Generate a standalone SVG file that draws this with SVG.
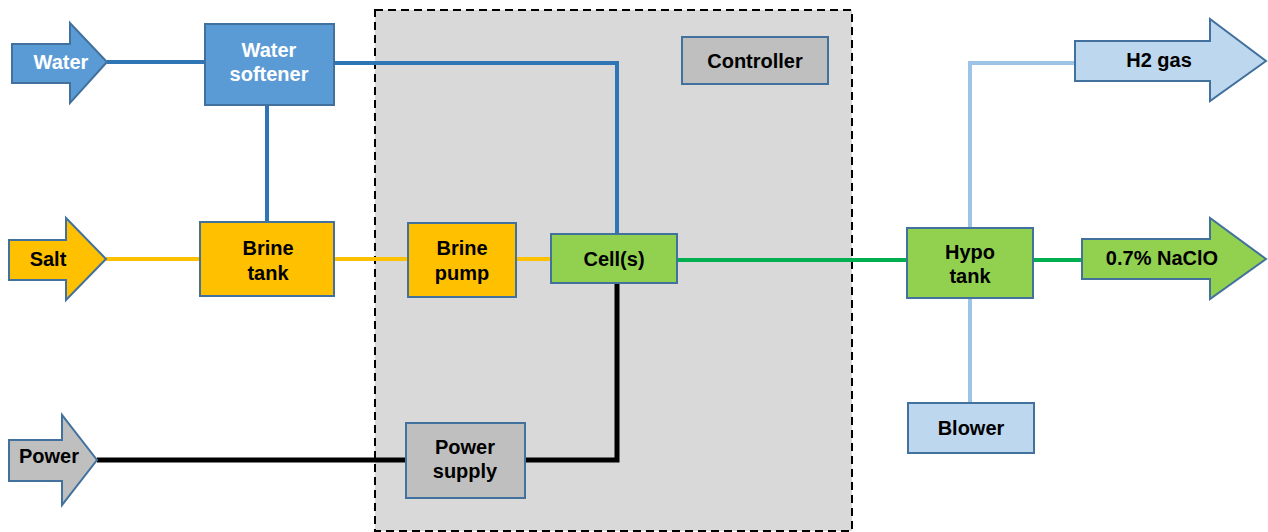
<svg xmlns="http://www.w3.org/2000/svg" width="1268" height="532" viewBox="0 0 1268 532">
<style>
text{font-family:"Liberation Sans",Arial,sans-serif;font-weight:bold;font-size:20px;text-anchor:middle;fill:#000}
.w{fill:#fff}
.box{stroke:#41719c;stroke-width:2}
.blue{fill:#5b9bd5}.yel{fill:#ffc000}.grn{fill:#92d050}.lb{fill:#bdd7ee}.gry{fill:#bfbfbf}
.ln{fill:none;stroke-width:4}
</style>
<rect x="0" y="0" width="1268" height="532" fill="#fff"/>
<g id="enclosure">
<rect x="375" y="10" width="477" height="521" fill="#d9d9d9" stroke="#000" stroke-width="2" stroke-dasharray="8,5"/>
</g>
<g id="connectors">
<polyline class="ln" stroke="#2e75b6" points="107,62 205,62"/>
<polyline class="ln" stroke="#2e75b6" points="334,63 617,63 617,234"/>
<polyline class="ln" stroke="#2e75b6" points="267,105 267,222"/>
<polyline class="ln" stroke="#ffc000" points="106,259 200,259"/>
<polyline class="ln" stroke="#ffc000" points="334,259 408,259"/>
<polyline class="ln" stroke="#ffc000" points="516,259 551,259"/>
<polyline class="ln" stroke="#00b050" points="677,260 907,260"/>
<polyline class="ln" stroke="#00b050" points="1033,260 1082,260"/>
<polyline class="ln" stroke="#9dc3e6" points="1075,63 970,63 970,228"/>
<polyline class="ln" stroke="#9dc3e6" points="970,298 970,403"/>
<polyline fill="none" stroke="#000" stroke-width="5" points="97,460 406,460"/>
<polyline fill="none" stroke="#000" stroke-width="5" points="525,460 617,460 617,283"/>
</g>
<g id="water-in">
<polygon class="box blue" points="12,44 70,44 70,23 107,62 70,103 70,83 12,83"/>
<text class="w" x="61" y="69">Water</text>
</g>
<g id="water-softener">
<rect class="box blue" x="205" y="24" width="129" height="81"/>
<text class="w" x="269" y="57">Water</text>
<text class="w" x="269" y="81">softener</text>
</g>
<g id="salt-in">
<polygon class="box yel" points="9,240 66,240 66,218 106,259 66,300 66,280 9,280"/>
<text x="48" y="266">Salt</text>
</g>
<g id="brine-tank">
<rect class="box yel" x="200" y="222" width="134" height="74"/>
<text x="268" y="255">Brine</text>
<text x="268" y="280">tank</text>
</g>
<g id="brine-pump">
<rect class="box yel" x="408" y="223" width="108" height="74"/>
<text x="462" y="255">Brine</text>
<text x="462" y="280">pump</text>
</g>
<g id="cells">
<rect class="box grn" x="551" y="234" width="126" height="49"/>
<text x="614" y="266">Cell(s)</text>
</g>
<g id="controller">
<rect class="box gry" x="682" y="37" width="146" height="47"/>
<text x="755" y="68">Controller</text>
</g>
<g id="power-in">
<polygon class="box gry" points="9,440 62,440 62,415 97,460 62,505 62,481 9,481"/>
<text x="49" y="463">Power</text>
</g>
<g id="power-supply">
<rect class="box gry" x="406" y="423" width="119" height="75"/>
<text x="465" y="454">Power</text>
<text x="465" y="478">supply</text>
</g>
<g id="hypo-tank">
<rect class="box grn" x="907" y="228" width="126" height="70"/>
<text x="970" y="259">Hypo</text>
<text x="970" y="283">tank</text>
</g>
<g id="naclo-out">
<polygon class="box grn" points="1082,239 1210,239 1210,218 1266,259 1210,299 1210,279 1082,279"/>
<text x="1162" y="265">0.7% NaClO</text>
</g>
<g id="h2-out">
<polygon class="box lb" points="1075,41 1210,41 1210,19 1266,61 1210,101 1210,81 1075,81"/>
<text x="1159" y="67">H2 gas</text>
</g>
<g id="blower">
<rect class="box lb" x="908" y="403" width="126" height="50"/>
<text x="971" y="435">Blower</text>
</g>
</svg>
